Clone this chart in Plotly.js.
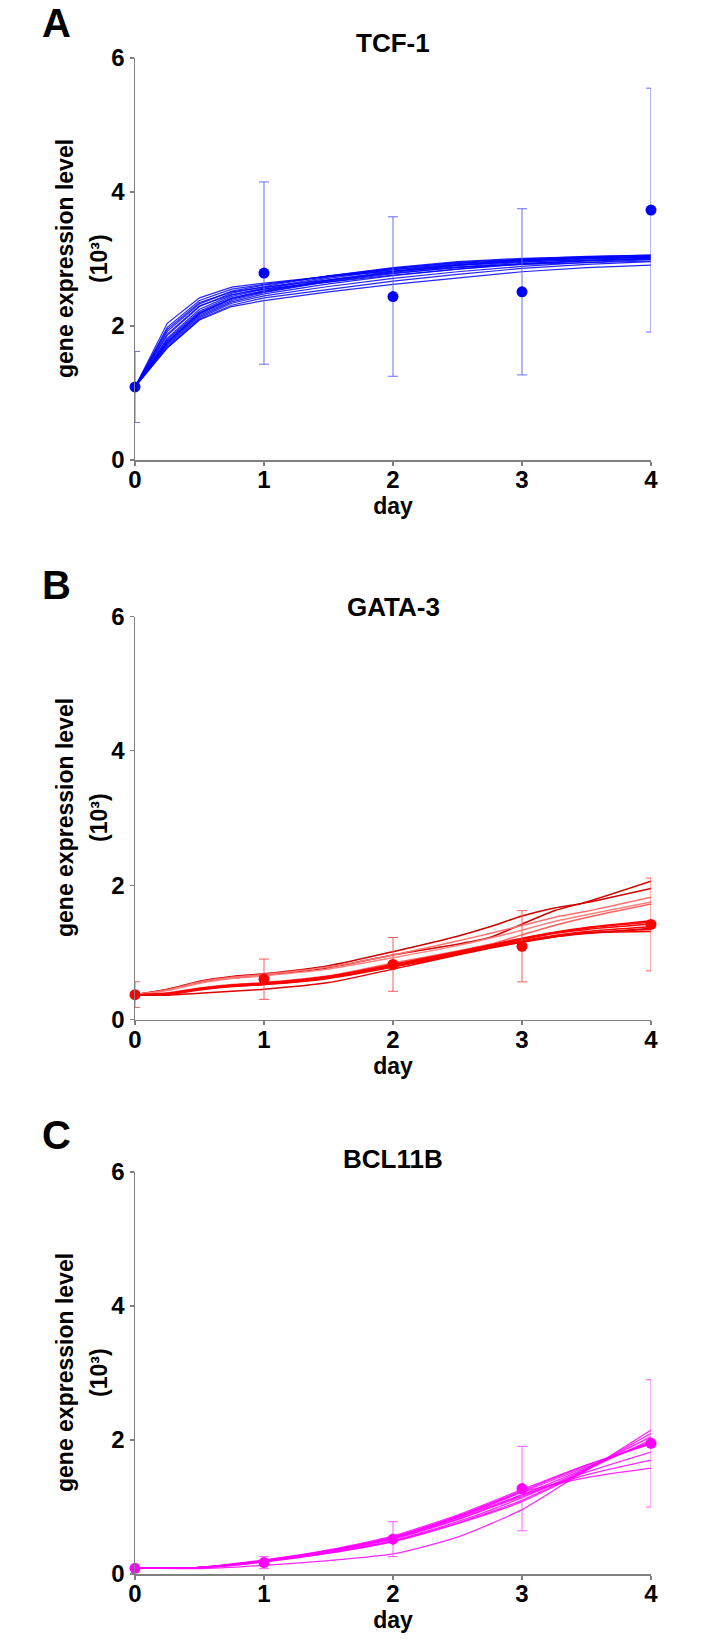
<!DOCTYPE html>
<html><head><meta charset="utf-8">
<script src="https://cdn.plot.ly/plotly-3.0.1.min.js"></script>
<style>body{margin:0;background:#fff}#chart{width:714px;height:1642px}</style>
</head><body><div id="chart"></div><script>
// ---- data ----
const days = [0, 1, 2, 3, 4];
const dayTicks = ['0', '1', '2', '3', '4'];
const levelTicks = [0, 2, 4, 6];
const yTitleLines = ['gene expression level', '(10\u00B3)'];
const xTitle = 'day';

const tcfMean = [1.09, 2.79, 2.44, 2.51, 3.73];
const tcfErr = [0.53, 1.36, 1.19, 1.24, 1.82];
const tcfTimes = [0, 0.25, 0.5, 0.75, 1, 1.5, 2, 2.5, 3, 3.5, 4];
const tcfFits = [
  [1.09, 2.04, 2.42, 2.58, 2.64, 2.74, 2.82, 2.88, 2.92, 2.95, 2.97],
  [1.09, 1.98, 2.38, 2.55, 2.62, 2.74, 2.84, 2.91, 2.96, 2.99, 3.01],
  [1.09, 1.92, 2.33, 2.52, 2.61, 2.75, 2.86, 2.94, 2.99, 3.02, 3.04],
  [1.09, 1.86, 2.29, 2.49, 2.59, 2.75, 2.87, 2.96, 3.01, 3.04, 3.06],
  [1.09, 1.82, 2.25, 2.46, 2.57, 2.73, 2.86, 2.95, 3.00, 3.04, 3.06],
  [1.09, 1.80, 2.22, 2.44, 2.55, 2.71, 2.84, 2.93, 2.99, 3.03, 3.05],
  [1.09, 1.78, 2.20, 2.42, 2.53, 2.69, 2.82, 2.92, 2.98, 3.02, 3.04],
  [1.09, 1.76, 2.18, 2.40, 2.51, 2.67, 2.80, 2.90, 2.97, 3.01, 3.03],
  [1.09, 1.74, 2.16, 2.38, 2.50, 2.66, 2.78, 2.88, 2.95, 3.00, 3.02],
  [1.09, 1.72, 2.14, 2.36, 2.48, 2.63, 2.75, 2.85, 2.93, 2.98, 3.01],
  [1.09, 1.70, 2.12, 2.34, 2.45, 2.59, 2.71, 2.81, 2.89, 2.95, 2.99],
  [1.09, 1.68, 2.10, 2.31, 2.42, 2.55, 2.67, 2.77, 2.86, 2.92, 2.96],
  [1.09, 1.67, 2.09, 2.29, 2.38, 2.51, 2.62, 2.72, 2.81, 2.87, 2.91],
  [1.09, 1.88, 2.30, 2.47, 2.55, 2.66, 2.76, 2.85, 2.92, 2.97, 3.00],
  [1.09, 1.95, 2.35, 2.51, 2.58, 2.69, 2.79, 2.87, 2.93, 2.97, 3.00],
  [1.09, 1.75, 2.19, 2.41, 2.52, 2.68, 2.81, 2.91, 2.97, 3.01, 3.03]
];

const gataMean = [0.37, 0.60, 0.82, 1.09, 1.415];
const gataErr = [0.19, 0.30, 0.40, 0.53, 0.69];
const gataTimes = [0, 0.25, 0.5, 0.75, 1, 1.5, 2, 2.5, 2.75, 3, 3.25, 3.5, 4];
const gataFits = [
  [0.37, 0.45, 0.57, 0.64, 0.68, 0.80, 1.01, 1.24, 1.38, 1.54, 1.66, 1.74, 1.95],
  [0.37, 0.44, 0.55, 0.62, 0.66, 0.77, 0.96, 1.12, 1.22, 1.42, 1.62, 1.75, 2.06],
  [0.37, 0.44, 0.56, 0.63, 0.67, 0.78, 0.96, 1.17, 1.28, 1.40, 1.52, 1.61, 1.82],
  [0.37, 0.43, 0.54, 0.61, 0.65, 0.75, 0.92, 1.10, 1.21, 1.33, 1.46, 1.56, 1.75],
  [0.37, 0.40, 0.47, 0.52, 0.55, 0.65, 0.84, 1.02, 1.12, 1.26, 1.40, 1.52, 1.72],
  [0.37, 0.38, 0.45, 0.50, 0.53, 0.63, 0.80, 0.99, 1.09, 1.19, 1.28, 1.34, 1.42],
  [0.37, 0.38, 0.46, 0.51, 0.54, 0.64, 0.81, 1.00, 1.10, 1.20, 1.29, 1.36, 1.45],
  [0.37, 0.37, 0.44, 0.49, 0.52, 0.62, 0.79, 0.98, 1.08, 1.17, 1.25, 1.31, 1.38],
  [0.37, 0.38, 0.45, 0.50, 0.53, 0.62, 0.79, 0.97, 1.07, 1.16, 1.23, 1.29, 1.34],
  [0.37, 0.39, 0.46, 0.51, 0.54, 0.64, 0.82, 1.01, 1.11, 1.21, 1.30, 1.37, 1.47],
  [0.37, 0.38, 0.45, 0.50, 0.52, 0.61, 0.78, 0.97, 1.07, 1.16, 1.24, 1.29, 1.31],
  [0.37, 0.36, 0.39, 0.42, 0.45, 0.55, 0.75, 0.96, 1.06, 1.15, 1.23, 1.28, 1.36]
];
const gataShade = ['#d00000', '#d00000', '#ff7070', '#ff8080', '#ff6060',
  '#ff0000', '#ff0000', '#ff0000', '#ff0000', '#ff0000', '#ff0000', '#e00000'];

const bclMean = [0.085, 0.17, 0.52, 1.275, 1.95];
const bclErr = [0.03, 0.09, 0.26, 0.63, 0.95];
const bclTimes = [0, 0.5, 1, 1.5, 2, 2.5, 3, 3.5, 4];
const bclFits = [
  [0.09, 0.10, 0.20, 0.35, 0.55, 0.86, 1.24, 1.62, 1.95],
  [0.09, 0.10, 0.21, 0.36, 0.57, 0.88, 1.26, 1.63, 1.94],
  [0.09, 0.10, 0.20, 0.34, 0.54, 0.84, 1.22, 1.60, 1.96],
  [0.09, 0.10, 0.19, 0.33, 0.52, 0.81, 1.18, 1.58, 1.98],
  [0.09, 0.09, 0.19, 0.32, 0.50, 0.78, 1.14, 1.57, 2.05],
  [0.09, 0.09, 0.18, 0.31, 0.49, 0.76, 1.10, 1.56, 2.10],
  [0.09, 0.09, 0.18, 0.31, 0.48, 0.75, 1.08, 1.55, 2.15],
  [0.09, 0.10, 0.20, 0.35, 0.55, 0.86, 1.22, 1.44, 1.58],
  [0.09, 0.10, 0.20, 0.35, 0.54, 0.84, 1.18, 1.48, 1.70],
  [0.09, 0.10, 0.20, 0.34, 0.53, 0.82, 1.16, 1.52, 1.82],
  [0.09, 0.08, 0.13, 0.20, 0.30, 0.55, 0.96, 1.55, 2.00]
];

const panels = [
  {letter: 'A', title: 'TCF-1', mean: tcfMean, err: tcfErr, times: tcfTimes, fits: tcfFits,
   line: 'rgba(0,0,255,0.85)', dot: '#0000ff', bar: '#6a6aff', shape: 'linear', lw: 1.2},
  {letter: 'B', title: 'GATA-3', mean: gataMean, err: gataErr, times: gataTimes, fits: gataFits,
   line: null, dot: '#ff0000', bar: '#ff5a5a', shape: 'spline', lw: 1.5},
  {letter: 'C', title: 'BCL11B', mean: bclMean, err: bclErr, times: bclTimes, fits: bclFits,
   line: 'rgba(255,0,255,0.85)', dot: '#ff00ff', bar: '#ff5aff', shape: 'spline', lw: 1.3}
];

// ---- layout geometry (pixels from top) ----
const H = 1642, PW = 516, L = 135;
const plotTop = [58, 616.5, 1172];
const plotBot = [460, 1019.5, 1574];
const letterY = [23, 585, 1135];
const titleY = [43, 607, 1159];
const yTitleX = [65, 99];

const FONT = 'Liberation Sans, Arial, Helvetica, sans-serif';
const traces = [];
const layout = {
  width: 714, height: H,
  margin: {l: L, r: 63, t: 0, b: 0},
  paper_bgcolor: '#ffffff', plot_bgcolor: '#ffffff',
  showlegend: false,
  font: {family: FONT, color: '#000'},
  annotations: []
};

panels.forEach((p, i) => {
  const n = i === 0 ? '' : String(i + 1);
  const xa = 'x' + n, ya = 'y' + n;
  p.fits.forEach((f, k) => {
    traces.push({
      type: 'scatter', mode: 'lines', x: p.times, y: f, xaxis: xa, yaxis: ya,
      line: {color: p.line || gataShade[k], width: p.lw, shape: p.shape, smoothing: 0.6},
      hoverinfo: 'skip', cliponaxis: false
    });
  });
  traces.push({
    type: 'scatter', mode: 'markers', x: days, y: p.mean, xaxis: xa, yaxis: ya,
    marker: {color: p.dot, size: 11},
    error_y: {type: 'data', array: p.err, visible: true, color: p.bar, thickness: 1, width: 5},
    cliponaxis: false
  });
  const dom = [1 - plotBot[i] / H, 1 - plotTop[i] / H];
  layout['xaxis' + n] = {
    anchor: ya, domain: [0, 1], range: [0, 4],
    tickvals: days, ticktext: dayTicks,
    showgrid: false, zeroline: false, showline: true, linecolor: '#808080', linewidth: 1.5,
    ticks: 'outside', ticklen: 4, tickcolor: '#808080', tickwidth: 1.2,
    ticklabelstandoff: -6,
    tickfont: {family: FONT, size: 24, weight: 'bold'},
    title: {text: xTitle, font: {family: FONT, size: 23, weight: 'bold'}, standoff: 2}
  };
  layout['yaxis' + n] = {
    anchor: xa, domain: dom, range: [0, 6],
    tickvals: levelTicks,
    showgrid: false, zeroline: false, showline: true, linecolor: '#808080', linewidth: 1.5,
    ticks: 'outside', ticklen: 4, tickcolor: '#808080', tickwidth: 1.2,
    tickfont: {family: FONT, size: 24, weight: 'bold'}
  };
  const midY = 1 - (plotTop[i] + plotBot[i]) / 2 / H;
  yTitleLines.forEach((t, j) => {
    layout.annotations.push({
      text: t, xref: 'paper', yref: 'paper', x: (yTitleX[j] - L) / PW, y: midY,
      xanchor: 'center', yanchor: 'middle', textangle: -90, showarrow: false,
      font: {family: FONT, size: 23, weight: 'bold'}
    });
  });
  layout.annotations.push({
    text: p.letter, xref: 'paper', yref: 'paper', x: (40 - L) / PW, y: 1 - letterY[i] / H,
    xanchor: 'left', yanchor: 'middle', showarrow: false,
    font: {family: FONT, size: 40, weight: 'bold'}
  });
  layout.annotations.push({
    text: p.title, xref: 'paper', yref: 'paper', x: 0.5, y: 1 - titleY[i] / H,
    xanchor: 'center', yanchor: 'middle', showarrow: false,
    font: {family: FONT, size: 26, weight: 'bold'}
  });
});

Plotly.newPlot('chart', traces, layout, {staticPlot: true});
</script></body></html>
